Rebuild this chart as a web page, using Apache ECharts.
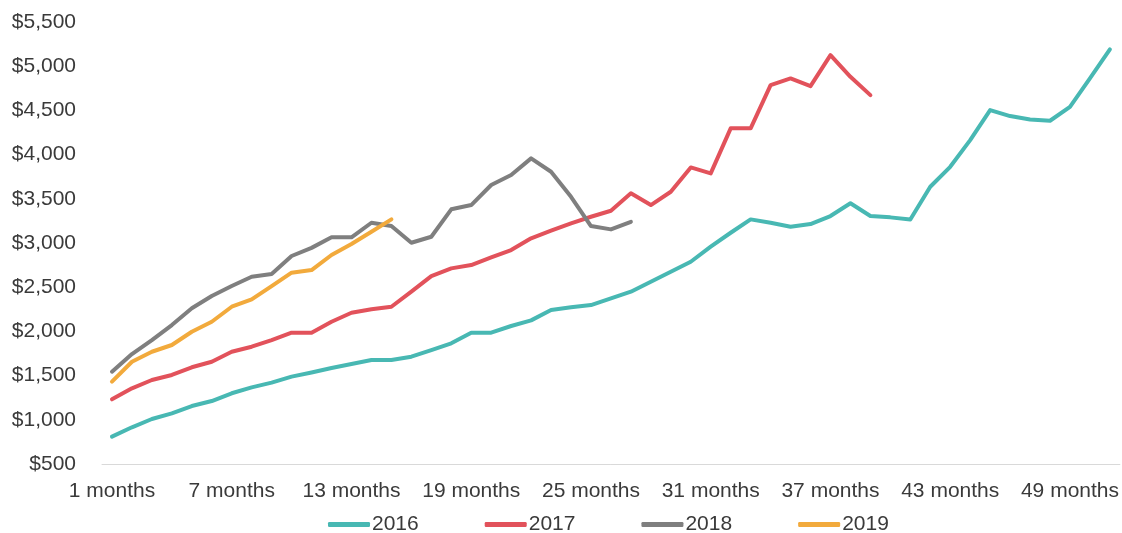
<!DOCTYPE html>
<html>
<head>
<meta charset="utf-8">
<script src="https://cdn.jsdelivr.net/npm/echarts@6/dist/echarts.min.js"></script>
<style>
html,body{margin:0;padding:0;background:#fff;}
#chart{width:1122px;height:533px;}
</style>
</head>
<body>
<div id="chart"></div>
<script>
var categories = [];
for (var m = 1; m <= 51; m++) { categories.push(m + ' months'); }

var seriesNames = ['2016', '2017', '2018', '2019'];

var values2016 = [809, 915, 1009, 1073, 1156, 1212, 1300, 1367, 1420, 1488,
  1535, 1586, 1631, 1676, 1676, 1714, 1789, 1865, 1985, 1985,
  2061, 2125, 2242, 2272, 2298, 2374, 2449, 2562, 2675, 2788,
  2958, 3116, 3267, 3229, 3184, 3214, 3305, 3449, 3305, 3290,
  3265, 3636, 3862, 4164, 4504, 4436, 4398, 4383, 4541, 4862,
  5190];

var values2017 = [1232, 1356, 1450, 1507, 1594, 1657, 1770, 1827, 1902, 1985,
  1985, 2109, 2211, 2250, 2279, 2449, 2626, 2713, 2751, 2837,
  2920, 3053, 3139, 3222, 3297, 3365, 3562, 3429, 3580, 3855,
  3788, 4297, 4297, 4786, 4862, 4775, 5126, 4880, 4673];

var values2018 = [1544, 1744, 1902, 2072, 2261, 2400, 2513, 2618, 2649, 2853,
  2945, 3064, 3064, 3229, 3192, 3003, 3071, 3381, 3429, 3656,
  3769, 3957, 3806, 3523, 3192, 3154, 3240];

var values2019 = [1431, 1657, 1770, 1846, 1996, 2109, 2279, 2363, 2513, 2664,
  2694, 2864, 2988, 3127, 3267];

var yMin = 500, yMax = 5500, yStep = 500;

var colors = ['#48B8B3', '#E2525B', '#7F7F7F', '#F2AA3C'];
var allValues = [values2016, values2017, values2018, values2019];

function money(v) {
  return '$' + String(v).replace(/\B(?=(\d{3})+(?!\d))/g, ',');
}

var textColor = '#3A3A3A';
var font = 'Liberation Sans, Arial, Helvetica, sans-serif';

var chart = echarts.init(document.getElementById('chart'), null, {renderer: 'canvas'});
chart.setOption({
  animation: false,
  color: colors,
  grid: {left: 102, right: 2, top: 22, bottom: 69, containLabel: false},
  legend: {
    data: seriesNames.map(function (n) { return {name: n, icon: 'roundRect'}; }),
    top: 514,
    left: 328,
    padding: 0,
    itemWidth: 42,
    itemHeight: 5,
    itemGap: 66,
    textStyle: {color: textColor, fontSize: 21, fontFamily: font, padding: [0, 0, 0, -3]}
  },
  xAxis: {
    type: 'category',
    data: categories,
    boundaryGap: true,
    axisLine: {show: true, lineStyle: {color: '#D9D9D9', width: 1}},
    axisTick: {show: false},
    axisLabel: {interval: 5, color: textColor, fontSize: 21, fontFamily: font, margin: 17},
    splitLine: {show: false}
  },
  yAxis: {
    type: 'value',
    min: yMin,
    max: yMax,
    interval: yStep,
    axisLine: {show: false},
    axisTick: {show: false},
    splitLine: {show: false},
    axisLabel: {color: textColor, fontSize: 21, fontFamily: font, margin: 26, formatter: money}
  },
  series: seriesNames.map(function (n, i) {
    return {
      name: n,
      type: 'line',
      data: allValues[i],
      showSymbol: false,
      symbol: 'none',
      smooth: false,
      lineStyle: {width: 4, color: colors[i], cap: 'round', join: 'round'},
      itemStyle: {color: colors[i]}
    };
  })
});
</script>
</body>
</html>
